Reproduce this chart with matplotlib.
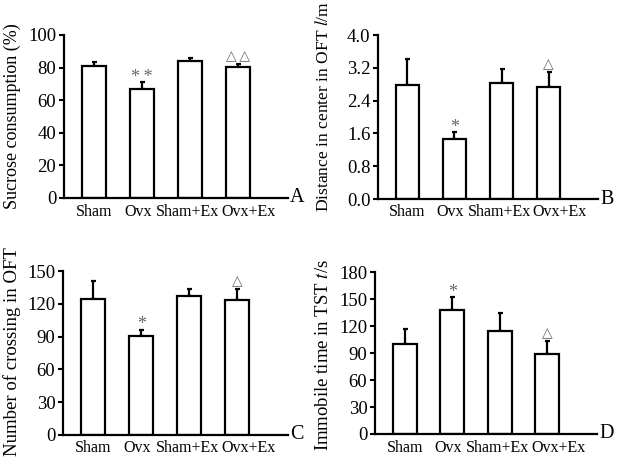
import matplotlib
matplotlib.use("Agg")
import matplotlib.pyplot as plt
import matplotlib.transforms as mtrans
import numpy as np

plt.rcParams['font.family'] = ['Liberation Serif', 'DejaVu Sans']
plt.rcParams['mathtext.fontset'] = 'stix'

groups = ["Sham", "Ovx", "Sham+Ex", "Ovx+Ex"]

sucrose_mean = [80.8, 67.0, 84.3, 80.5]
sucrose_err = [2.7, 4.0, 1.5, 2.0]
sucrose_marks = ["", "**", "", "△△"]

distance_mean = [2.77, 1.47, 2.84, 2.73]
distance_err = [0.64, 0.16, 0.33, 0.37]
distance_marks = ["", "*", "", "△"]

crossing_mean = [125.0, 90.8, 127.7, 124.0]
crossing_err = [16.0, 5.7, 6.1, 9.5]
crossing_marks = ["", "*", "", "△"]

immobile_mean = [100.0, 137.5, 114.8, 89.0]
immobile_err = [17.0, 14.5, 19.5, 14.5]
immobile_marks = ["", "*", "", "△"]

W, H = 619, 467
label_shift_px = [0, -4, -2, 11]

panels = [
    dict(mean=sucrose_mean, err=sucrose_err, marks=sucrose_marks,
         ylabel="Sucrose consumption (%)", yticks=[0, 20, 40, 60, 80, 100],
         ticklabels=["0", "20", "40", "60", "80", "100"], letter="A",
         rect=[64/W, 1-198/H, 224/W, 163/H], lab=(12.5, 116.5), lfs=13.0),
    dict(mean=distance_mean, err=distance_err, marks=distance_marks,
         ylabel="Distance in center in OFT $\\it{l}$/m", yticks=[0, 0.8, 1.6, 2.4, 3.2, 4.0],
         ticklabels=["0.0", "0.8", "1.6", "2.4", "3.2", "4.0"], letter="B",
         rect=[378/W, 1-199/H, 220/W, 164/H], lab=(323.5, 106), lfs=12.6),
    dict(mean=crossing_mean, err=crossing_err, marks=crossing_marks,
         ylabel="Number of crossing in OFT", yticks=[0, 30, 60, 90, 120, 150],
         ticklabels=["0", "30", "60", "90", "120", "150"], letter="C",
         rect=[63/W, 1-434.7/H, 225/W, 163.4/H], lab=(12.5, 351.5), lfs=13.5),
    dict(mean=immobile_mean, err=immobile_err, marks=immobile_marks,
         ylabel="Immobile time in TST $\\it{t}$/s", yticks=[0, 30, 60, 90, 120, 150, 180],
         ticklabels=["0", "30", "60", "90", "120", "150", "180"], letter="D",
         rect=[375/W, 1-434/H, 222/W, 161.7/H], lab=(323.5, 355.5), lfs=13.5),
]

fig = plt.figure(figsize=(6.19, 4.67), dpi=100)

for p in panels:
    ax = fig.add_axes(p["rect"])
    x = np.arange(len(groups))
    ax.bar(x, p["mean"], width=0.5, color="white", edgecolor="black", linewidth=1.6, zorder=2)
    ax.errorbar(x, p["mean"], yerr=[np.zeros(len(x)), p["err"]], fmt="none",
                ecolor="black", elinewidth=1.6, capsize=1.8, capthick=1.6, zorder=1)
    top = p["yticks"][-1]
    for xi, m, e, mk in zip(x, p["mean"], p["err"], p["marks"]):
        if mk:
            shown = "\u2009".join(mk)
            if "△" in mk:
                ax.annotate(shown, (xi, m + e), xytext=(0, 0.5), textcoords="offset points",
                            ha="center", va="bottom", fontsize=10, color="#666666",
                            family=["DejaVu Sans"])
            else:
                ax.annotate(shown, (xi, m + e), xytext=(0, -2.5), textcoords="offset points",
                            ha="center", va="bottom", fontsize=13, color="#666666",
                            family=["Liberation Serif", "DejaVu Sans"])
    ax.set_xlim(-0.625, 4.05)
    ax.set_ylim(0, top)
    ax.set_yticks(p["yticks"])
    ax.set_yticklabels(p["ticklabels"], fontsize=13.5)
    ax.set_xticks(x)
    ax.set_xticklabels([])
    blend = ax.get_xaxis_transform()
    for xi, g, dx in zip(x, groups, label_shift_px):
        tr = blend + mtrans.ScaledTranslation(dx / 100, -5.5 / 100, fig.dpi_scale_trans)
        ax.text(xi, 0, g, transform=tr, ha="center", va="top", fontsize=11.5)
    ax.tick_params(axis="x", length=0, pad=4)
    ax.tick_params(axis="y", direction="out", length=3.5, width=1.5, pad=2)
    for s in ["top", "right"]:
        ax.spines[s].set_visible(False)
    for s in ["left", "bottom"]:
        ax.spines[s].set_linewidth(1.6)
    ax.set_ylabel(p["ylabel"], fontsize=p["lfs"])
    ax.yaxis.label.set_va("center")
    ax.yaxis.set_label_coords(p["lab"][0]/W, 1 - p["lab"][1]/H, transform=fig.transFigure)
    ax.text(1.01, 0, p["letter"], transform=ax.transAxes, ha="left", va="center", fontsize=14.5)

fig.savefig("out.png", dpi=100, facecolor="white")
